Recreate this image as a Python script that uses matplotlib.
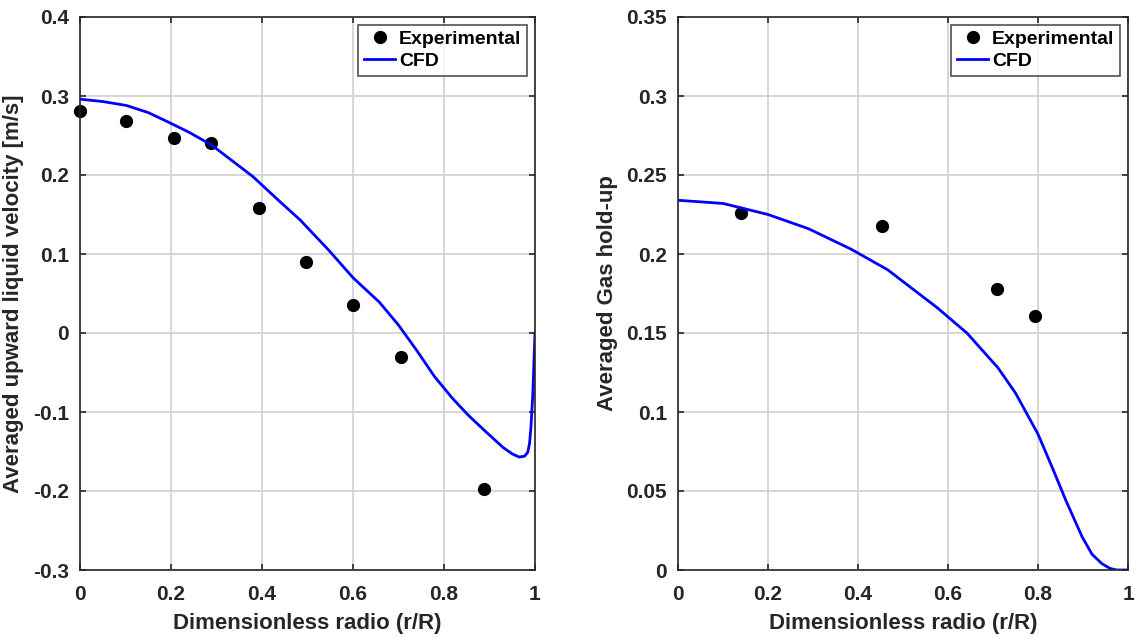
import numpy as np
import matplotlib
matplotlib.use("Agg")
import matplotlib.pyplot as plt

# Left panel: liquid velocity
r_exp_vel = [0.0, 0.102, 0.207, 0.289, 0.393, 0.497, 0.601, 0.705, 0.889]
v_exp = [0.281, 0.268, 0.247, 0.240, 0.158, 0.090, 0.036, -0.030, -0.197]

r_cfd_vel = [0.0, 0.05, 0.102, 0.15, 0.194, 0.24, 0.289, 0.33, 0.38, 0.438, 0.484,
             0.548, 0.6, 0.658, 0.7, 0.74, 0.779, 0.819, 0.855, 0.892, 0.93,
             0.95, 0.965, 0.977, 0.984, 0.988, 0.991, 0.995, 1.0]
v_cfd = [0.296, 0.293, 0.288, 0.279, 0.267, 0.254, 0.238, 0.220, 0.198, 0.167, 0.143,
         0.104, 0.070, 0.039, 0.010, -0.022, -0.055, -0.083, -0.105, -0.125, -0.145,
         -0.153, -0.157, -0.156, -0.151, -0.140, -0.120, -0.080, 0.0]

# Right panel: gas hold-up
r_exp_gas = [0.140, 0.453, 0.708, 0.793]
g_exp = [0.226, 0.2176, 0.178, 0.161]

r_cfd_gas = [0.0, 0.1, 0.2, 0.29, 0.385, 0.466, 0.576, 0.642, 0.711, 0.75,
             0.8, 0.83, 0.862, 0.898, 0.92, 0.942, 0.96, 0.975, 1.0]
g_cfd = [0.234, 0.232, 0.225, 0.216, 0.203, 0.190, 0.166, 0.150, 0.128, 0.112,
         0.086, 0.066, 0.044, 0.021, 0.010, 0.004, 0.001, 0.0, 0.0]

plt.rcParams['font.family'] = ['Liberation Sans', 'DejaVu Sans']
plt.rcParams['font.weight'] = 'bold'

fig = plt.figure(figsize=(11.35, 6.37), dpi=100)
ax1 = fig.add_axes([80/1135, 67/637, 455/1135, 553/637])
ax2 = fig.add_axes([678/1135, 67/637, 450/1135, 553/637])

def style(ax, yticks, ylabel):
    ax.set_xlim(0, 1)
    ax.set_ylim(yticks[0], yticks[-1])
    ax.set_xticks([0, 0.2, 0.4, 0.6, 0.8, 1])
    ax.set_xticklabels(['0', '0.2', '0.4', '0.6', '0.8', '1'])
    ax.set_yticks(yticks)
    ax.set_yticklabels(['0' if abs(t) < 1e-9 else ('%g' % t) for t in yticks])
    ax.grid(True, color='#d0d0d0', linewidth=1.2)
    ax.set_axisbelow(True)
    ax.tick_params(direction='in', top=True, right=True, length=4, width=1.2,
                   colors='#262626', labelsize=15)
    ax.tick_params(axis='x', pad=11)
    ax.tick_params(axis='y', pad=8)
    for lab in ax.get_xticklabels() + ax.get_yticklabels():
        lab.set_fontweight('bold')
    for s in ax.spines.values():
        s.set_color('#262626')
        s.set_linewidth(1.2)
    ax.set_xlabel('Dimensionless radio (r/R)', fontsize=16, fontweight='bold',
                  color='#262626', labelpad=6)
    ax.set_ylabel(ylabel, fontsize=16, fontweight='bold', color='#262626', labelpad=6)
    leg = ax.legend(loc='upper right', fontsize=14, frameon=True, fancybox=False,
                    edgecolor='#262626', handlelength=1.6, handletextpad=0.2,
                    borderpad=0.3, labelspacing=0.2, borderaxespad=0.4)
    leg.get_frame().set_linewidth(1.2)
    for t in leg.get_texts():
        t.set_fontweight('bold')

ax1.plot(r_exp_vel, v_exp, 'o', color='black', markersize=8.5, label='Experimental', clip_on=False)
ax1.plot(r_cfd_vel, v_cfd, '-', color='blue', linewidth=2, label='CFD')
style(ax1, [-0.3, -0.2, -0.1, 0, 0.1, 0.2, 0.3, 0.4], 'Averaged upward liquid velocity [m/s]')

ax2.plot(r_exp_gas, g_exp, 'o', color='black', markersize=8.5, label='Experimental')
ax2.plot(r_cfd_gas, g_cfd, '-', color='blue', linewidth=2, label='CFD')
style(ax2, [0, 0.05, 0.1, 0.15, 0.2, 0.25, 0.3, 0.35], 'Averaged Gas hold-up')

fig.savefig('out.png', dpi=100)
